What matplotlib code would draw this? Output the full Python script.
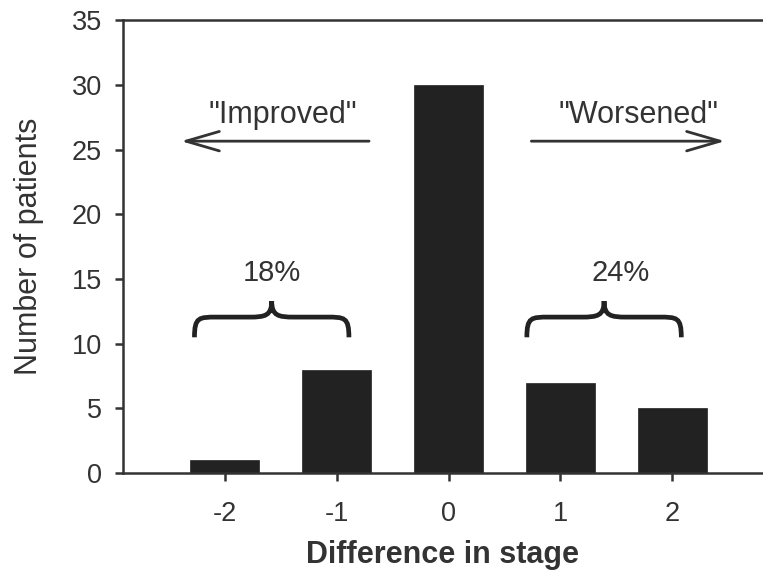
import matplotlib
matplotlib.use("Agg")
import matplotlib.pyplot as plt
from matplotlib.path import Path
from matplotlib.patches import PathPatch

plt.rcParams['font.family'] = ['Liberation Sans', 'DejaVu Sans']

stages = [-2, -1, 0, 1, 2]
patients = [1, 8, 30, 7, 5]
tick_labels = ['-2', '-1', '0', '1', '2']
yticks = [0, 5, 10, 15, 20, 25, 30, 35]
pct_improved = "18%"
pct_worsened = "24%"

TXT = '#333333'
BAR = '#222222'

fig = plt.figure(figsize=(7.63, 5.75), dpi=100)
ax = fig.add_axes([0.161, 0.177, 0.839, 0.788])

ax.bar(stages, patients, width=0.62, color=BAR, edgecolor=BAR, linewidth=0.5, zorder=2)

ax.set_xlim(-2.91, 2.81)
ax.set_ylim(0, 35)
ax.set_xticks(stages)
ax.set_xticklabels(tick_labels)
ax.set_yticks(yticks)

for s in ['left', 'bottom', 'top']:
    ax.spines[s].set_linewidth(1.8)
    ax.spines[s].set_color('#333333')
ax.spines['right'].set_visible(False)

ax.tick_params(axis='both', labelsize=19.5, colors=TXT, width=1.8, length=6, direction='out')
ax.tick_params(axis='x', pad=14)
ax.tick_params(axis='y', pad=9)

ax.set_xlabel('Difference in stage', fontsize=22, fontweight='bold', color=TXT, labelpad=9)
ax.set_ylabel('Number of patients', fontsize=22, color=TXT, labelpad=20)

# arrows and labels
arrow_kw = dict(arrowstyle='->,head_length=1.2,head_width=0.35', lw=2.0, color=TXT,
                mutation_scale=20, shrinkA=0, shrinkB=0)
ax.annotate('', xy=(-2.39, 25.65), xytext=(-0.71, 25.65), arrowprops=arrow_kw)
ax.annotate('', xy=(2.47, 25.65), xytext=(0.74, 25.65), arrowprops=arrow_kw)
ax.text(-1.48, 27.7, '"Improved"', fontsize=22, color=TXT, ha='center', va='center')
ax.text(1.70, 27.7, '"Worsened"', fontsize=22, color=TXT, ha='center', va='center')


def brace(ax, x0, x1, yb, yf, yp, w=0.2):
    xm = (x0 + x1) / 2
    verts = [
        (x0, yb),
        (x0, yf), (x0 + w * 0.2, yf), (x0 + w, yf),
        (xm - w, yf),
        (xm - 0.3 * w, yf), (xm, yf + 0.1), (xm, yp),
        (xm, yf + 0.1), (xm + 0.3 * w, yf), (xm + w, yf),
        (x1 - w, yf),
        (x1 - w * 0.2, yf), (x1, yf), (x1, yb),
    ]
    codes = [Path.MOVETO,
             Path.CURVE4, Path.CURVE4, Path.CURVE4,
             Path.LINETO,
             Path.CURVE4, Path.CURVE4, Path.CURVE4,
             Path.CURVE4, Path.CURVE4, Path.CURVE4,
             Path.LINETO,
             Path.CURVE4, Path.CURVE4, Path.CURVE4]
    ax.add_patch(PathPatch(Path(verts, codes), fill=False, lw=3.4, color='#222222',
                           capstyle='butt', joinstyle='miter', zorder=3))

brace(ax, -2.27, -0.89, 10.5, 12.06, 13.3)
brace(ax, 0.70, 2.08, 10.5, 12.06, 13.3)
ax.text(-1.58, 15.5, pct_improved, fontsize=21, color=TXT, ha='center', va='center')
ax.text(1.54, 15.5, pct_worsened, fontsize=21, color=TXT, ha='center', va='center')

fig.savefig('out.png', dpi=100)
